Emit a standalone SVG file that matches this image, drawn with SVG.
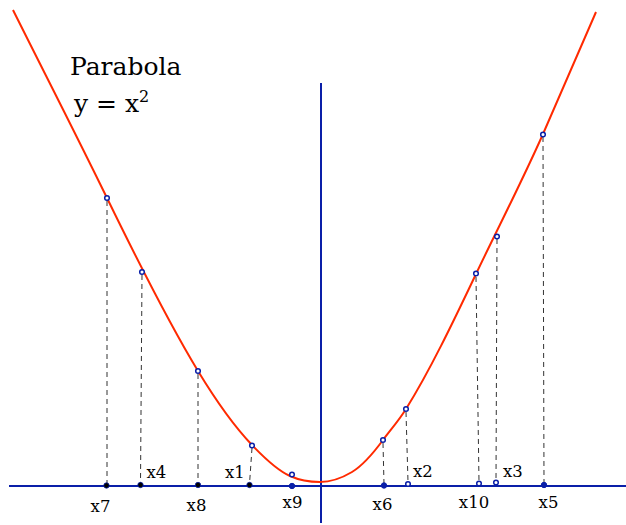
<svg xmlns="http://www.w3.org/2000/svg" width="626" height="525" viewBox="0 0 626 525">
<style>
.axis{stroke:#0a1fa8;stroke-width:2;fill:none}
.curve{stroke:#ff2a00;stroke-width:2;fill:none}
.dash{stroke:#333;stroke-width:1;stroke-dasharray:5,4;fill:none}
.pt{fill:#fff;stroke:#0a1fa8;stroke-width:1.5}
.blk{fill:#000;stroke:#0a1fa8;stroke-width:0.8}
.blu{fill:#0a1fa8;stroke:#0a1fa8;stroke-width:1}
.lbl{font-family:"DejaVu Serif","Liberation Serif",serif;font-size:16.5px;fill:#000}
.title{font-family:"DejaVu Serif","Liberation Serif",serif;font-size:25px;fill:#000}
</style>
<rect width="626" height="525" fill="#fff"/>
<g id="axes">
<line class="axis" x1="9" y1="486" x2="626" y2="486"/>
<line class="axis" x1="321" y1="83" x2="321" y2="523"/>
</g>
<g id="parabola">
<path class="curve" d="M13,10 C44.3,72.7 75.7,133.8 107,198 C137.3,260.2 167.7,321 198,371 C216,400.7 234,426.1 252,445 C264.7,458.3 277.3,470.3 290,476 C300,480.5 310,482 320,482 C330.7,482 341.3,478.4 352,472 C362.3,465.8 372.7,454 383,440 C390.7,429.6 398.3,421.3 406,409 C429.3,371.7 452.7,323 476,274 C498.3,227.1 520.7,184.2 543,134 C560.7,94.2 578.3,53.5 596,12"/>
</g>
<g id="connectors">
<line class="dash" x1="107" y1="201" x2="107" y2="485"/>
<line class="dash" x1="142" y1="275" x2="140.5" y2="484"/>
<line class="dash" x1="198" y1="374" x2="198" y2="484"/>
<line class="dash" x1="252" y1="448" x2="249.5" y2="484"/>
<line class="dash" x1="383" y1="443" x2="384" y2="484"/>
<line class="dash" x1="406" y1="412" x2="408" y2="482"/>
<line class="dash" x1="476" y1="277" x2="479" y2="482"/>
<line class="dash" x1="497" y1="239" x2="496" y2="481"/>
<line class="dash" x1="543" y1="137" x2="544" y2="483"/>
</g>
<g id="curve-points">
<circle class="pt" cx="107" cy="198" r="2.3"/>
<circle class="pt" cx="142" cy="272" r="2.3"/>
<circle class="pt" cx="198" cy="371" r="2.3"/>
<circle class="pt" cx="252" cy="445.5" r="2.3"/>
<circle class="pt" cx="292" cy="474.5" r="2.3"/>
<circle class="pt" cx="383" cy="440" r="2.3"/>
<circle class="pt" cx="406" cy="409" r="2.3"/>
<circle class="pt" cx="476" cy="273.5" r="2.3"/>
<circle class="pt" cx="497" cy="236.5" r="2.3"/>
<circle class="pt" cx="543" cy="134.5" r="2.3"/>
</g>
<g id="x7"><circle class="blk" cx="106.5" cy="485.5" r="2.7"/><text class="lbl" x="100.5" y="512" text-anchor="middle">x7</text></g>
<g id="x4"><circle class="blk" cx="140.5" cy="485" r="2.7"/><text class="lbl" x="146.5" y="478">x4</text></g>
<g id="x8"><circle class="blk" cx="198" cy="485" r="2.7"/><text class="lbl" x="196.5" y="511" text-anchor="middle">x8</text></g>
<g id="x1"><circle class="blk" cx="249.5" cy="485" r="2.7"/><text class="lbl" x="225" y="478">x1</text></g>
<g id="x9"><circle class="blu" cx="292" cy="486" r="2.7"/><text class="lbl" x="292.5" y="508" text-anchor="middle">x9</text></g>
<g id="x6"><circle class="blu" cx="384" cy="485.5" r="2.7"/><text class="lbl" x="382.5" y="510" text-anchor="middle">x6</text></g>
<g id="x2"><circle class="pt" cx="408" cy="484" r="2.3"/><text class="lbl" x="413" y="476.5">x2</text></g>
<g id="x10"><circle class="pt" cx="479" cy="483.5" r="2.3"/><text class="lbl" x="474" y="508" text-anchor="middle">x10</text></g>
<g id="x3"><circle class="pt" cx="496" cy="482.5" r="2.3"/><text class="lbl" x="503" y="476.5">x3</text></g>
<g id="x5"><circle class="blu" cx="544" cy="485" r="2.7"/><text class="lbl" x="548.5" y="508" text-anchor="middle">x5</text></g>
<g id="title">
<text class="title" x="70" y="75">Parabola</text>
<text class="title" x="74" y="112">y = x<tspan font-size="16" dy="-10">2</tspan></text>
</g>
</svg>
